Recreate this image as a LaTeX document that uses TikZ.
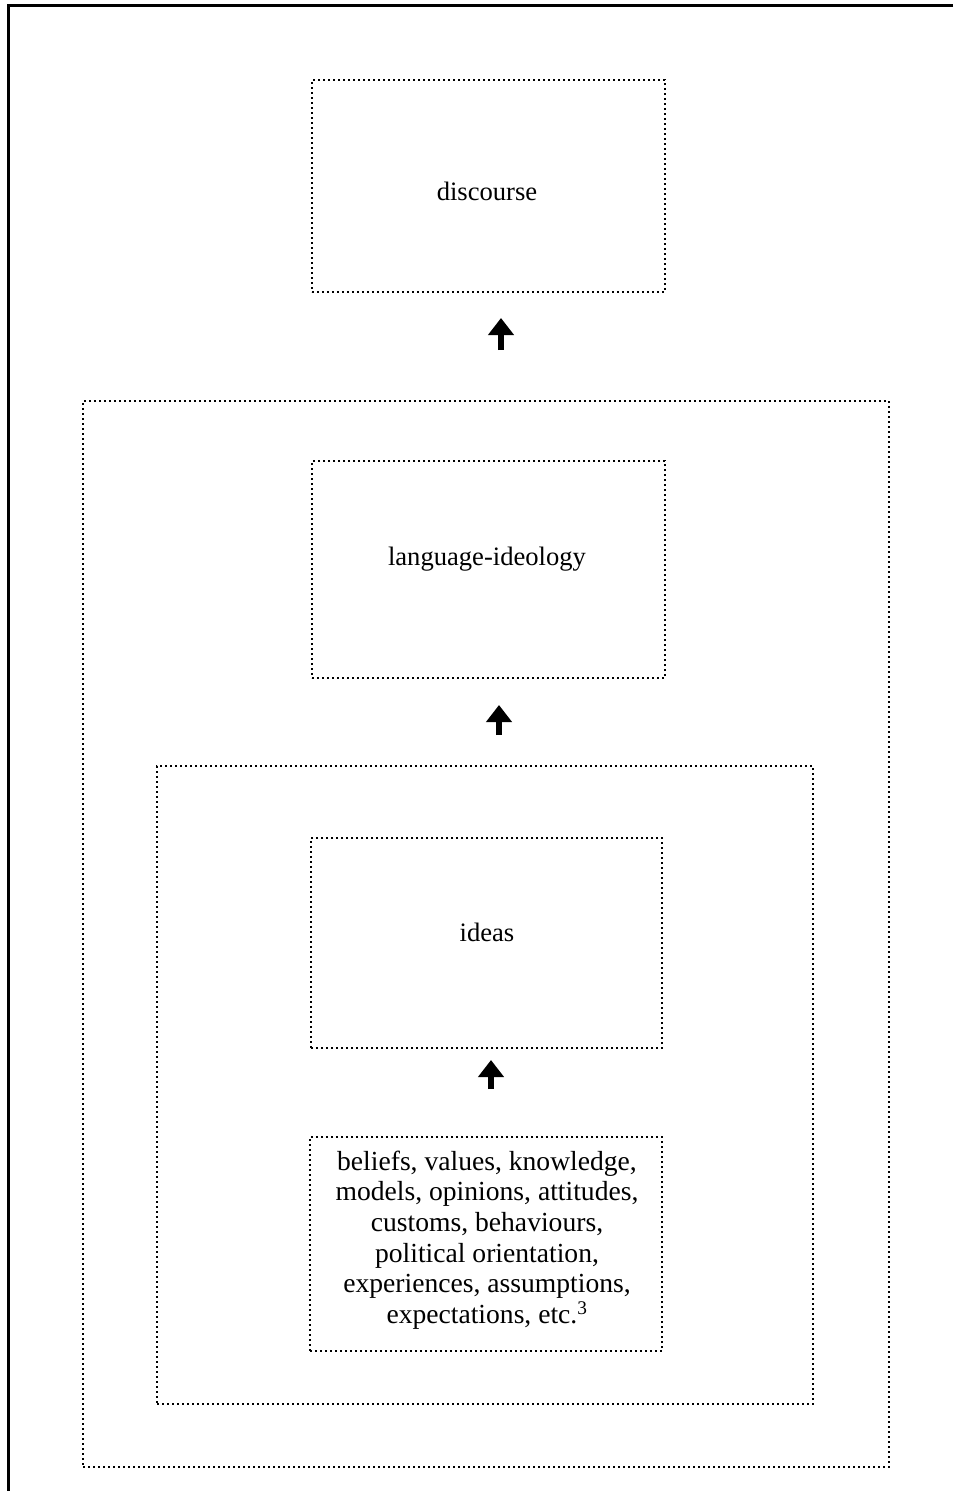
\documentclass[tikz,border=0pt]{standalone}
\usepackage{fontspec}
\setmainfont{Liberation Serif}
\usetikzlibrary{arrows.meta}

\tikzset{
  dotbox/.style={draw=black, line width=2pt, dash pattern=on 2pt off 3pt,
    line cap=butt, inner sep=0pt, minimum width=#1},
  boxtext/.style={font=\fontsize{26.6}{30.5}\selectfont, inner sep=0pt},
  listtext/.style={font=\fontsize{27.6}{30.6}\selectfont, inner sep=0pt, align=center},
  uparrow/.style={line width=6pt, -{Triangle[width=25pt,length=17pt]}},
  frame/.style={line width=3pt}
}

\begin{document}
\begin{tikzpicture}[x=1pt, y=-1pt]
  % page extent
  \useasboundingbox (0,0) rectangle (953,1491);

  % solid frame along the top and left edges
  \coordinate (tl) at (8,5);
  \coordinate (tr) at (953,5);
  \coordinate (bl) at (8,1491);
  \draw[frame] (tr) -- (tl) -- (bl);

  % nested dotted enclosures
  \node[dotbox=806pt, minimum height=1066pt] (outer)  at (486,934) {};
  \node[dotbox=656pt, minimum height=638pt]  (middle) at (485,1085) {};

  % inner boxes
  \node[dotbox=353pt, minimum height=212pt] (discourse) at (488.5,186) {};
  \node[dotbox=353pt, minimum height=217pt] (langideo)  at (488.5,569.5) {};
  \node[dotbox=351pt, minimum height=210pt] (ideas)     at (486.5,943) {};
  \node[dotbox=352pt, minimum height=214pt] (beliefs)   at (486,1244) {};

  % box labels
  \node[boxtext] (tdiscourse) at (487,191) {discourse};
  \node[boxtext] (tlang)      at (487,559) {language-ideology};
  \node[boxtext] (tideas)     at (487,932) {ideas};
  \node[listtext] (tbeliefs) at (487,1240)
    {beliefs, values, knowledge,\\
     models, opinions, attitudes,\\
     customs, behaviours,\\
     political orientation,\\
     experiences, assumptions,\\
     expectations, etc.\textsuperscript{3}};

  % arrows between levels
  \coordinate (a1s) at (501,350);
  \coordinate (a1e) at (501,318);
  \coordinate (a2s) at (499,735);
  \coordinate (a2e) at (499,705);
  \coordinate (a3s) at (491,1089);
  \coordinate (a3e) at (491,1060);
  \draw[uparrow] (a1s) -- (a1e);
  \draw[uparrow] (a2s) -- (a2e);
  \draw[uparrow] (a3s) -- (a3e);
\end{tikzpicture}
\end{document}
